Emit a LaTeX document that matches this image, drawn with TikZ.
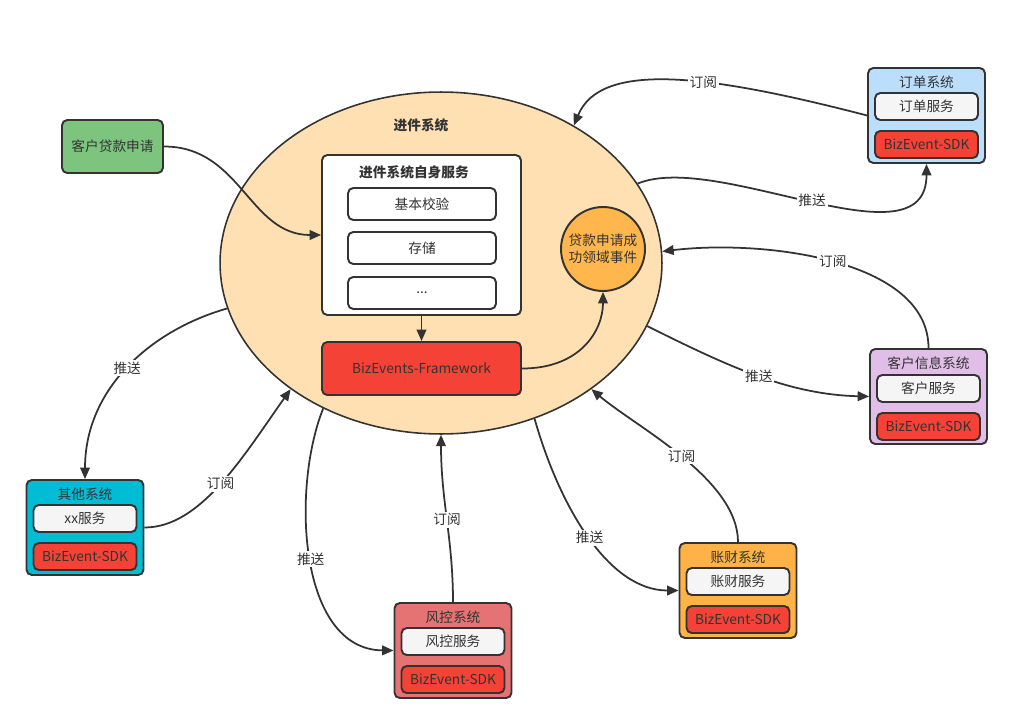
\documentclass[tikz,border=0pt]{standalone}
\usepackage{fontspec}
\setmainfont{Noto Sans CJK SC}
\usetikzlibrary{arrows.meta, shapes.geometric}

\definecolor{linec}{HTML}{333333}
\definecolor{txtc}{HTML}{333333}
\definecolor{jjfill}{HTML}{FFE0B2}
\definecolor{applyg}{HTML}{7DC57F}
\definecolor{dingdanb}{HTML}{BBDEFB}
\definecolor{kehup}{HTML}{E1BEE7}
\definecolor{zhangcaio}{HTML}{FFB347}
\definecolor{fengkongr}{HTML}{E57373}
\definecolor{qitac}{HTML}{00BCD4}
\definecolor{sdkred}{HTML}{F44336}
\definecolor{svcgray}{HTML}{F5F5F5}
\definecolor{eventc}{HTML}{FFB74D}

\newcommand{\diagfont}{\fontsize{7.8}{9.8}\selectfont}

\begin{document}
\begin{tikzpicture}[
  x=0.02cm, y=-0.02cm,
  base/.style    = {rectangle, draw=linec, line width=1.1pt, rounded corners=3pt,
                    inner sep=2pt, text=txtc, font=\diagfont},
  sysbox/.style  = {base, minimum width=2.34cm, minimum height=1.9cm},
  systitle/.style= {text=txtc, font=\diagfont, inner sep=1pt},
  svcbox/.style  = {base, fill=svcgray, minimum width=2.06cm, minimum height=0.54cm},
  sdkbox/.style  = {base, fill=sdkred, minimum width=2.06cm, minimum height=0.54cm},
  stepbox/.style = {base, fill=white, minimum width=2.96cm, minimum height=0.64cm},
  arr/.style     = {-{Triangle[length=6.5pt, width=5.5pt]}, line width=1pt, draw=linec},
  lbl/.style     = {fill=white, inner sep=1pt, text=txtc, font=\diagfont}
]
\useasboundingbox (0,0) rectangle (1013,723);

%% -- 进件系统 --------------------------------------------------------------
\node[ellipse, draw=linec, fill=jjfill, line width=0.9pt, inner sep=0pt,
      minimum width=8.84cm, minimum height=6.84cm] (jinjian) at (441,263) {};
\node[systitle, font=\diagfont\bfseries] (jjtitle) at (421,125) {进件系统};

\node[base, fill=white, minimum width=3.98cm, minimum height=3.2cm] (zishen) at (421.5,235) {};
\node[systitle, font=\diagfont\bfseries] (zstitle) at (414,172) {进件系统自身服务};
\node[stepbox] (jiaoyan) at (422,204) {基本校验};
\node[stepbox] (cunchu)  at (422,248) {存储};
\node[stepbox] (more)    at (422,293) {...};

\node[base, fill=sdkred, minimum width=3.98cm, minimum height=1.06cm] (framework) at (421.5,368.5) {BizEvents-Framework};
\node[circle, draw=linec, fill=eventc, line width=1.1pt, minimum size=1.68cm, inner sep=0pt,
      align=center, text=txtc, font=\diagfont] (event) at (603,249) {贷款申请成\\功领域事件};

%% -- 客户贷款申请 ----------------------------------------------------------
\node[base, fill=applyg, minimum width=2.02cm, minimum height=1.06cm] (apply) at (112.5,146.5) {客户贷款申请};

%% -- 外部系统 --------------------------------------------------------------
\node[sysbox, fill=dingdanb] (dingdan) at (926.5,115.5) {};
\node[systitle] (ddtitle) at (926.5,82)  {订单系统};
\node[svcbox]   (ddsvc)   at (926.5,106.5) {订单服务};
\node[sdkbox]   (ddsdk)   at (926.5,144.5) {BizEvent-SDK};

\node[sysbox, fill=kehup] (kehu) at (928.5,396.5) {};
\node[systitle] (khtitle) at (928.5,363) {客户信息系统};
\node[svcbox]   (khsvc)   at (928.5,388.5) {客户服务};
\node[sdkbox]   (khsdk)   at (928.5,426.5) {BizEvent-SDK};

\node[sysbox, fill=zhangcaio] (zhangcai) at (738,590.5) {};
\node[systitle] (zctitle) at (738,557) {账财系统};
\node[svcbox]   (zcsvc)   at (738,581.5) {账财服务};
\node[sdkbox]   (zcsdk)   at (738,619.5) {BizEvent-SDK};

\node[sysbox, fill=fengkongr] (fengkong) at (453,650.5) {};
\node[systitle] (fktitle) at (453,617) {风控系统};
\node[svcbox]   (fksvc)   at (453,641.5) {风控服务};
\node[sdkbox]   (fksdk)   at (453,679.5) {BizEvent-SDK};

\node[sysbox, fill=qitac] (qita) at (85,527.5) {};
\node[systitle] (qttitle) at (85,494) {其他系统};
\node[svcbox]   (qtsvc)   at (85,518.5) {xx服务};
\node[sdkbox]   (qtsdk)   at (85,556.5) {BizEvent-SDK};

%% -- 内部连线 --------------------------------------------------------------
\draw[arr] (apply.east) .. controls +(77,0) and +(-72,0) .. (zishen.west);
\draw[arr] (zishen.south) -- (framework.north);
\draw[arr] (framework.east) .. controls +(59,0) and +(0,38) .. (event.south);

%% -- 订阅 / 推送 -----------------------------------------------------------
\draw[arr] (dingdan.west) .. controls +(-158,-41) and +(27,-65) .. node[lbl, pos=0.4]{订阅} (jinjian.46);
\draw[arr] (jinjian.22) .. controls +(80,-33) and +(0,105) .. node[lbl, midway]{推送} (dingdan.south);
\draw[arr] (kehu.north) .. controls +(0,-89) and +(100,-12) .. node[lbl, midway]{订阅} (jinjian.3);
\draw[arr] (jinjian.-17) .. controls +(82,41) and +(-80,-2) .. node[lbl, midway]{推送} (kehu.west);
\draw[arr] (zhangcai.north) .. controls +(0,-63) and +(45,38) .. node[lbl, midway]{订阅} (jinjian.-40);
\draw[arr] (jinjian.-59) .. controls +(25,88) and +(-70,0) .. node[lbl, midway]{推送} (zhangcai.west);
\draw[arr] (fengkong.north) .. controls +(0,-63) and +(0,66) .. node[lbl, midway]{订阅} (jinjian.-90);
\draw[arr] (jinjian.-129) .. controls +(-32,80) and +(-95,-1) .. node[lbl, midway]{推送} (fengkong.west);
\draw[arr] (qita.east) .. controls +(56,0) and +(-48,68) .. node[lbl, midway]{订阅} (jinjian.-140);
\draw[arr] (jinjian.-168) .. controls +(-77,22) and +(0,-90) .. node[lbl, midway]{推送} (qita.north);

\end{tikzpicture}
\end{document}
